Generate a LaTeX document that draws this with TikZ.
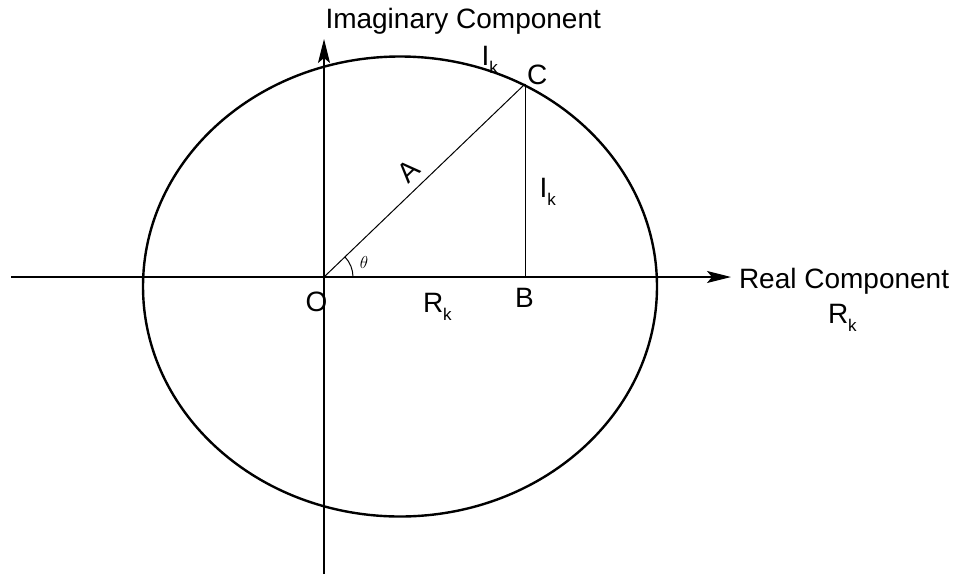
\documentclass[tikz,border=0pt]{standalone}
\usepackage{fontspec}
\setmainfont{Liberation Sans}
\usetikzlibrary{arrows.meta}
\newcommand{\subk}{\raisebox{-8pt}{\fontsize{17}{17}\selectfont k}}
\begin{document}
\begin{tikzpicture}[x=1pt,y=-1pt,
  axisline/.style={line width=1.1pt},
  thinline/.style={line width=1pt},
  ellipseline/.style={line width=2.4pt},
  lbl/.style={inner sep=0pt,outer sep=0pt,anchor=base west,font=\fontsize{28}{32}\selectfont},
  axtip/.style={-{Stealth[length=24pt,width=12pt,inset=5pt]}}]
\useasboundingbox (0,0) rectangle (958,574);
% key points
\coordinate (O) at (324,277);
\coordinate (B) at (525,277);
\coordinate (C) at (525,84);
\coordinate (E) at (400,286.5);
\coordinate (xl) at (11,277);
\coordinate (xr) at (731,277);
\coordinate (yb) at (324,574);
\coordinate (yt) at (324,39);
% ellipse
\draw[ellipseline] (E) ellipse [x radius=257pt, y radius=230pt];
% axes
\draw[axisline,axtip] (xl) -- (xr);
\draw[axisline,axtip] (yb) -- (yt);
% triangle
\draw[thinline] (O) -- (C);
\draw[thinline] (C) -- (B);
% angle arc
\draw[thinline] ([xshift=29pt]O) arc[start angle=0,end angle=44,radius=29pt];
% labels
\node[lbl] (imag) at (325.5,28) {Imaginary Component};
\node[lbl] (real) at (739,288) {Real Component};
\node[lbl] (rk2) at (828,323) {R\subk};
\node[lbl] (rk1) at (423,312) {R\subk};
\node[lbl] (olbl) at (305.5,311) {O};
\node[lbl] (blbl) at (515,307) {B};
\node[lbl] (clbl) at (527,84) {C};
\node[lbl] (ik1) at (481.5,65) {I\subk};
\node[lbl] (ik2) at (539.5,197) {I\subk};
\node[inner sep=0pt,font=\fontsize{18}{18}\selectfont] (th) at (364,262) {$\theta$};
\node[inner sep=0pt,font=\fontsize{28}{32}\selectfont,rotate=44] (alb) at (408.8,170.6) {A};
\end{tikzpicture}
\end{document}
